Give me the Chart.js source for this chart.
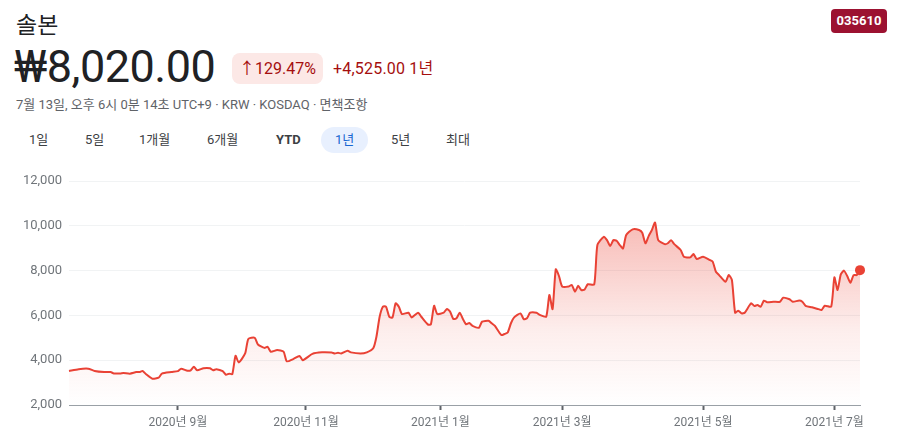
<!DOCTYPE html>
<html lang="ko">
<head>
    <meta charset="UTF-8">
    <title>솔본</title>
    <script src="https://cdn.jsdelivr.net/npm/chart.js"></script>
    <style>
        body { margin: 0; width: 897px; height: 444px; background: #fff; position: relative; overflow: hidden;
               font-family: Roboto, "Noto Sans CJK KR", sans-serif; color: #202124; }
        .abs { position: absolute; white-space: nowrap; }
        #name { left: 16px; top: 6px; font-size: 23px; }
        #ticker { left: 831px; top: 9px; width: 56px; height: 24px; line-height: 24px; text-align: center;
                  background: #9c1231; color: #fff; font-weight: 700; font-size: 13px; border-radius: 4px; }
        #price { left: 14px; top: 40px; font-size: 45px; letter-spacing: -0.5px; }
        #badge { left: 232px; top: 53px; width: 91px; height: 31px; line-height: 31px; text-align: center;
                 background: #fce8e6; color: #a50e0e; font-size: 16px; border-radius: 8px; }
        #change { left: 333px; top: 58px; font-size: 16px; color: #a50e0e; line-height: 22px; letter-spacing: 0.2px; }
        #sub { left: 16px; top: 94px; font-size: 13px; color: #5f6368; }
        .tab { top: 130px; font-size: 13px; color: #3c4043; line-height: 20px; }
        #pill { left: 321px; top: 127px; width: 47px; height: 26px; border-radius: 13px; background: #e8f0fe; }
        #wrap { left: 0; top: 160px; width: 897px; height: 284px; }
    </style>
</head>
<body>
    <div class="abs" id="name">솔본</div>
    <div class="abs" id="ticker">035610</div>
    <div class="abs" id="price">₩8,020.00</div>
    <div class="abs" id="badge">↑129.47%</div>
    <div class="abs" id="change">+4,525.00 1년</div>
    <div class="abs" id="sub">7월 13일, 오후 6시 0분 14초 UTC+9 · KRW · KOSDAQ · 면책조항</div>
    <div class="abs" id="pill"></div>
    <div class="abs tab" style="left:29px">1일</div>
    <div class="abs tab" style="left:85px">5일</div>
    <div class="abs tab" style="left:139px">1개월</div>
    <div class="abs tab" style="left:207px">6개월</div>
    <div class="abs tab" style="left:276px;font-weight:700">YTD</div>
    <div class="abs tab" style="left:335px;color:#1967d2">1년</div>
    <div class="abs tab" style="left:391px">5년</div>
    <div class="abs tab" style="left:446px">최대</div>

    <div class="abs" id="wrap"><canvas id="priceChart"></canvas></div>

    <script>
        // trading-day index (0 = 2020-07-14, 247 = 2021-07-13) and closing price (KRW)
        const days = [0, 3, 6, 8, 11, 13, 14, 16, 17, 19, 21, 22, 23, 24, 26, 28, 29, 32, 34, 35,
            37, 38, 39, 40, 42, 44, 45, 46, 48, 49, 50, 51, 52, 53, 55, 56, 58, 59, 61, 62,
            63, 65, 67, 68, 70, 72, 73, 76, 79, 82, 83, 84, 85, 87, 88, 91, 93, 95, 96, 97,
            98, 99, 100, 101, 102, 103, 104, 106, 107, 109, 110, 112, 113, 114, 115, 117, 118, 119, 120, 121,
            122, 123, 124, 125, 126, 128, 129, 131, 132, 133, 135, 136, 137, 138, 139, 141, 142, 143, 144, 146,
            147, 149, 150, 151, 152, 153, 154, 156, 157, 158, 159, 160, 161, 162, 164, 165, 167, 168, 169, 170,
            171, 172, 173, 174, 176, 178, 179, 180, 181, 182, 183, 184, 186, 187, 188, 189, 191, 192, 194, 195,
            196, 198, 200, 201, 202, 203, 205, 206, 207, 208, 209, 210, 211, 213, 214, 215, 216, 217, 218, 220,
            222, 223, 225, 226, 228, 229, 230, 232, 234, 235, 236, 238, 239, 240, 241, 242, 243, 244, 245, 246,
            247];
        const prices = [3520, 3600, 3620, 3520, 3470, 3470, 3410, 3410, 3430, 3400, 3470, 3470, 3520, 3380, 3175, 3220, 3400, 3470, 3510, 3620,
            3530, 3550, 3710, 3550, 3640, 3640, 3550, 3600, 3510, 3350, 3400, 3380, 4200, 3900, 4300, 4950, 5000, 4700, 4550, 4600,
            4380, 4450, 4380, 3950, 4050, 4190, 4000, 4280, 4350, 4340, 4300, 4330, 4300, 4420, 4350, 4300, 4350, 4530, 5050, 5940,
            6390, 6390, 5940, 5900, 6540, 6390, 6060, 6120, 5910, 6120, 5940, 5600, 5600, 6430, 6060, 6120, 6290, 6170, 5840, 5870,
            6120, 5840, 5600, 5660, 5530, 5450, 5720, 5760, 5650, 5530, 5125, 5170, 5240, 5650, 5910, 6090, 5830, 5870, 6120, 6120,
            6020, 5940, 6910, 6280, 8060, 7760, 7290, 7290, 7360, 7060, 7320, 7130, 7160, 7390, 7380, 9140, 9510, 9360, 9100, 9360,
            9330, 9140, 8990, 9590, 9840, 9810, 9690, 9220, 9540, 9810, 10150, 9360, 9180, 9220, 9360, 9180, 8920, 8620, 8590, 8740,
            8520, 8620, 8480, 8400, 7950, 7800, 7500, 7800, 7580, 6120, 6210, 6090, 6120, 6540, 6420, 6460, 6390, 6660, 6590, 6610,
            6610, 6790, 6720, 6610, 6660, 6610, 6430, 6360, 6280, 6240, 6430, 6390, 7700, 7130, 7830, 8000, 7760, 7460, 7800, 7800,
            8020];
        const monthDays = [34, 74, 116, 154, 198, 239];
        const monthLabels = ["2020년 9월", "2020년 11월", "2021년 1월", "2021년 3월", "2021년 5월", "2021년 7월"];
        const yTicks = [2000, 4000, 6000, 8000, 10000, 12000];

        const red = "#e94235";
        const fontFamily = "Roboto, 'Noto Sans CJK KR', sans-serif";
        const points = days.map((d, i) => ({ x: d, y: prices[i] }));
        const last = points.length - 1;

        const ctx = document.getElementById("priceChart").getContext("2d");

        new Chart(ctx, {
            type: "line",
            data: {
                datasets: [{
                    data: points,
                    borderColor: red,
                    borderWidth: 2,
                    tension: 0.2,
                    fill: "start",
                    backgroundColor: (c) => {
                        const area = c.chart.chartArea;
                        if (!area) return "rgba(234,67,53,0.2)";
                        const g = c.chart.ctx.createLinearGradient(0, area.top + 40, 0, area.bottom);
                        g.addColorStop(0, "rgba(234,67,53,0.36)");
                        g.addColorStop(0.6, "rgba(234,67,53,0.09)");
                        g.addColorStop(1, "rgba(234,67,53,0.0)");
                        return g;
                    },
                    pointRadius: (c) => c.dataIndex === last ? 5 : 0,
                    pointBackgroundColor: red,
                    pointBorderWidth: 0,
                    clip: false
                }]
            },
            options: {
                responsive: true,
                maintainAspectRatio: false,
                animation: false,
                layout: { padding: { top: 21, right: 37, left: 0, bottom: 0 } },
                plugins: { legend: { display: false }, tooltip: { enabled: false } },
                scales: {
                    x: {
                        type: "linear",
                        min: 0,
                        max: 247,
                        afterBuildTicks: (s) => { s.ticks = monthDays.map(v => ({ value: v })); },
                        afterFit: (s) => { s.height = 39; },
                        ticks: {
                            autoSkip: false,
                            maxRotation: 0,
                            padding: 6,
                            color: "#70757a",
                            font: { size: 12, family: fontFamily },
                            callback: (v) => monthLabels[monthDays.indexOf(v)]
                        },
                        grid: { drawOnChartArea: false, tickLength: 5, tickColor: "#5f6368", tickWidth: 2 },
                        border: { color: "#9aa0a6", width: 1 }
                    },
                    y: {
                        min: 2000,
                        max: 12000,
                        afterBuildTicks: (s) => { s.ticks = yTicks.map(v => ({ value: v })); },
                        afterFit: (s) => { s.width = 69; },
                        ticks: {
                            padding: 7,
                            color: "#70757a",
                            font: { size: 13, family: fontFamily },
                            callback: (v) => v.toLocaleString("en-US")
                        },
                        grid: { color: "#f1f3f4", drawTicks: false },
                        border: { display: false }
                    }
                }
            }
        });
    </script>
</body>
</html>
